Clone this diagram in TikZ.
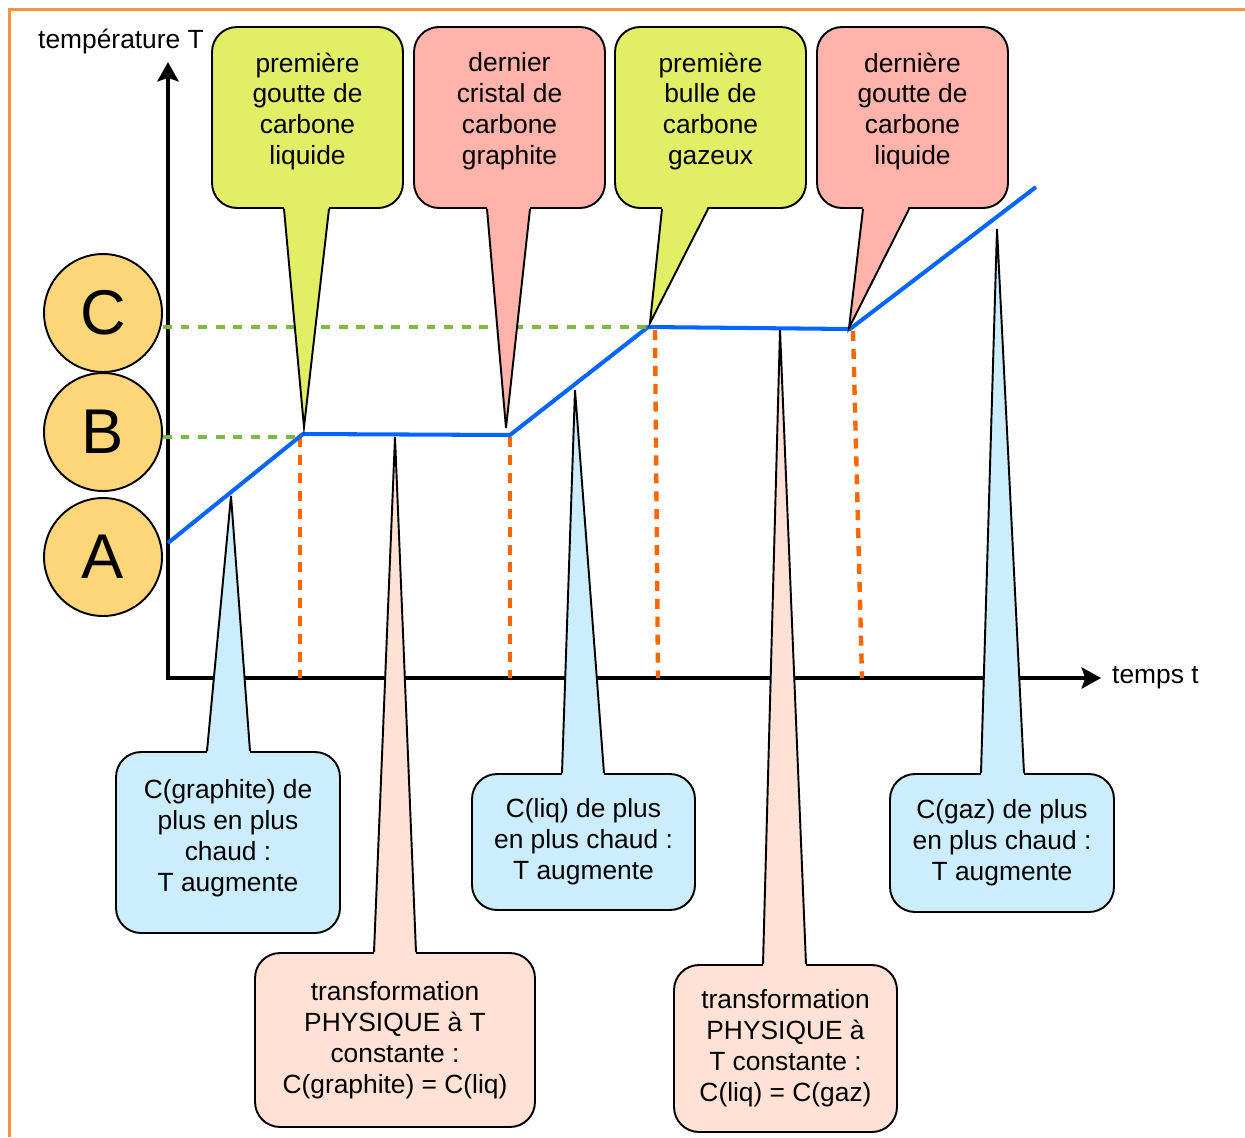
\documentclass[tikz,border=0pt]{standalone}
\usepackage{fontspec}
\setmainfont{Liberation Sans}
\usetikzlibrary{arrows.meta,positioning,calc}
\definecolor{vertpomme}{HTML}{E2EE66}
\definecolor{saumon}{HTML}{FFB3AB}
\definecolor{cielclair}{HTML}{CCEEFC}
\definecolor{peche}{HTML}{FFE1D6}
\definecolor{jaunephase}{HTML}{FDD67A}
\definecolor{bleucourbe}{HTML}{0066FF}
\definecolor{vertpointille}{HTML}{7CBB42}
\definecolor{orangepointille}{HTML}{FF6600}
\definecolor{cadre}{HTML}{F5953F}
\tikzset{
  basic/.style  = {draw, rounded corners=0.5cm, line width=1.1pt, align=center,
  inner sep=0pt, font=\fontsize{15}{17.6}\selectfont},
  haut1/.style  = {basic, fill=vertpomme, minimum width=3.82cm, minimum height=3.62cm, text depth=10pt},
  haut2/.style  = {basic, fill=saumon, minimum width=3.82cm, minimum height=3.62cm, text depth=10pt},
  bas1/.style   = {basic, fill=cielclair, minimum width=4.48cm},
  bas2/.style   = {basic, fill=peche},
  phase/.style  = {draw, circle, line width=1.1pt, fill=jaunephase, minimum size=2.36cm,
  inner sep=0pt, font=\fontsize{36}{40}\selectfont},
  axe/.style    = {line width=2.4pt, line cap=rect, -{Stealth[length=11pt,width=12pt,inset=2pt]}},
  courbe/.style = {line width=2.3pt, color=bleucourbe, line join=round},
  palier/.style = {line width=2.3pt, color=vertpointille, dash pattern=on 5.1pt off 4.9pt},
  change/.style = {line width=2.5pt, color=orangepointille, dash pattern=on 5.7pt off 4.5pt},
  queue/.style  = {line width=1.1pt, line join=miter}
}

\begin{document}
\begin{tikzpicture}[x=0.02cm, y=-0.02cm]
  \useasboundingbox (0,0) rectangle (1245,1137);
  \draw[cadre, line width=1.7pt] (9.7,1137) -- (9.7,9.7) -- (1245,9.7);

% axes
  \coordinate (O) at (168,678);
  \coordinate (ytop) at (168,62);
  \coordinate (xend) at (1101,678);
  \draw[axe] (O) -- (ytop);
  \draw[axe] (O) -- (xend);
  \node (labelT) at (121,42) {\fontsize{15}{18}\selectfont température T};
  \node[right=0.1cm of xend] (labelt) {\fontsize{15}{18}\selectfont temps t};

% the heating curve
  \coordinate (p0) at (168,543);
  \coordinate (p1) at (303,434);
  \coordinate (p2) at (510,435);
  \coordinate (p3) at (648,327);
  \coordinate (p4) at (850,329);
  \coordinate (p5) at (1036,187);

  \foreach \xh/\yh/\xb in {300/437/300, 510/437/510, 655/330/658, 853/331/862}
    \draw[change] (\xh,\yh) -- (\xb,0 |- O);

  \draw[courbe] (p0) -- (p1) -- (p2) -- (p3) -- (p4) -- (p5);

% temperature levels
  \node[phase] (A) at (103,557) {A};
  \node[phase] (B) at (103,432) {B};
  \node[phase] (C) at (103,313) {C};
  \draw[palier] (B.east |- 0,437) -- (p1 |- 0,437);
  \draw[palier] (C.east |- p3) -- (p3);

% callouts above the curve
  \node[haut1] (goutte1) at (307.5,117.5) {première\\goutte de\\carbone\\liquide};
  \node[haut2] (cristal) at (509.5,117.5) {dernier\\cristal de\\carbone\\graphite};
  \node[haut1] (bulle) at (710.5,117.5) {première\\bulle de\\carbone\\gazeux};
  \node[haut2] (goutte2) at (912.5,117.5) {dernière\\goutte de\\carbone\\liquide};

  \coordinate (q1) at (304,427);
  \coordinate (q2) at (506,428);
  \coordinate (q3) at (650,323);
  \coordinate (q4) at (849,328);

  \foreach \boite/\coul/\xg/\xd/\pointe in {goutte1/vertpomme/284/329/q1,
      cristal/saumon/487/530/q2, bulle/vertpomme/662/708/q3, goutte2/saumon/863/909/q4}{
    \fill[\coul] ($(\xg,0 |- \boite.south)+(0,-3)$) -- (\pointe) -- ($(\xd,0 |- \boite.south)+(0,-3)$) -- cycle;
    \draw[queue] (\xg,0 |- \boite.south) -- (\pointe) -- (\xd,0 |- \boite.south);
  }

% callouts below the axis
  \node[bas1, minimum height=3.62cm, text depth=8pt] (chaud1) at (228,842.5) {C(graphite) de\\plus en plus\\chaud :\\T augmente};
  \node[bas2, minimum width=5.6cm, minimum height=3.48cm] (fusion) at (395,1040) {transformation\\PHYSIQUE à T\\constante :\\C(graphite) = C(liq)};
  \node[bas1, minimum width=4.46cm, minimum height=2.72cm] (chaud2) at (583.5,842) {C(liq) de plus\\en plus chaud :\\T augmente};
  \node[bas2, minimum width=4.46cm, minimum height=3.34cm] (vapo) at (785.5,1048.5) {transformation\\PHYSIQUE à\\T constante :\\C(liq) = C(gaz)};
  \node[bas1, minimum height=2.76cm] (chaud3) at (1002,843) {C(gaz) de plus\\en plus chaud :\\T augmente};

  \coordinate (r1) at (231,496);
  \coordinate (r2) at (395,437);
  \coordinate (r3) at (575,390);
  \coordinate (r4) at (780,330);
  \coordinate (r5) at (997,229);

  \foreach \boite/\coul/\xg/\xd/\pointe in {chaud1/cielclair/207/250/r1,
      fusion/peche/374/416/r2, chaud2/cielclair/562/604/r3,
      vapo/peche/763/806/r4, chaud3/cielclair/981/1024/r5}{
    \fill[\coul] ($(\xg,0 |- \boite.north)+(0,3)$) -- (\pointe) -- ($(\xd,0 |- \boite.north)+(0,3)$) -- cycle;
    \draw[queue] (\xg,0 |- \boite.north) -- (\pointe) -- (\xd,0 |- \boite.north);
  }
\end{tikzpicture}
\end{document}
